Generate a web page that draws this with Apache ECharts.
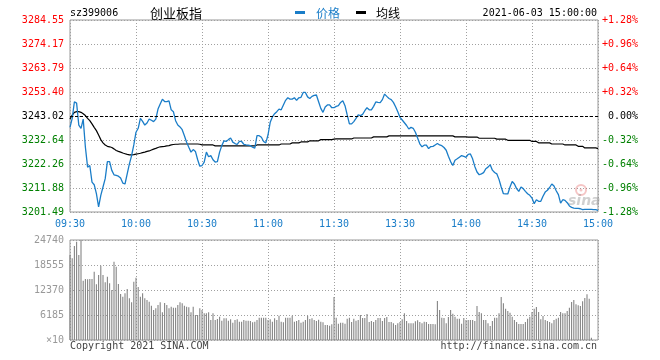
<!DOCTYPE html>
<html><head><meta charset="utf-8">
<script src="https://cdn.jsdelivr.net/npm/echarts@6/dist/echarts.min.js"></script>
<style>html,body{margin:0;padding:0;background:#fff}#c{width:660px;height:360px}</style>
</head><body><div id="c"></div>
<script>
// ---- data ----
const prevClose = 3243.02;
const priceMin = 3201.49;
const priceMax = 3284.55;
const volMax = 24740;

const timeTicks = ['09:30','10:00','10:30','11:00','11:30','13:30','14:00','14:30','15:00'];
const priceTicks = ['3201.49','3211.88','3222.26','3232.64','3243.02','3253.40','3263.79','3274.17','3284.55'];
const pctTicks = ['-1.28%','-0.96%','-0.64%','-0.32%','0.00%','+0.32%','+0.64%','+0.96%','+1.28%'];
const volTicks = ['×10','6185','12370','18555','24740'];

const price = [
3238.1,3242.0,3249.2,3248.6,3239.1,3237.7,3241.7,3229.5,3220.9,3221.6,
3214.4,3213.3,3209.4,3203.7,3208.7,3212.3,3215.9,3223.3,3223.3,3219.5,
3217.6,3217.3,3217.0,3216.2,3214.0,3213.6,3218.0,3222.3,3225.9,3230.5,
3236.0,3237.7,3242.0,3240.7,3239.1,3240.0,3241.7,3241.2,3240.6,3241.7,
3246.0,3248.2,3250.3,3249.3,3249.2,3249.6,3245.7,3244.9,3241.0,3239.1,
3238.3,3237.1,3234.5,3231.7,3229.5,3227.4,3228.5,3227.7,3224.2,3221.3,
3221.6,3223.1,3227.4,3225.4,3225.9,3224.1,3223.1,3223.3,3227.4,3230.2,
3232.3,3232.0,3232.8,3233.5,3231.7,3231.1,3230.7,3232.0,3232.0,3230.8,
3230.5,3230.4,3230.2,3229.5,3229.1,3234.5,3234.5,3233.8,3232.0,3231.4,
3234.8,3240.3,3242.6,3244.0,3244.9,3246.0,3245.7,3247.8,3249.8,3250.9,
3250.3,3250.3,3250.9,3249.8,3250.9,3251.1,3253.2,3253.2,3251.3,3250.6,
3251.5,3251.9,3252.1,3249.2,3246.3,3244.6,3246.9,3247.8,3247.8,3246.6,
3246.6,3247.2,3247.5,3248.9,3249.6,3247.5,3243.5,3239.6,3239.6,3240.6,
3242.0,3243.5,3243.2,3243.7,3245.3,3246.6,3245.7,3245.7,3247.2,3249.1,
3248.9,3248.8,3250.1,3252.5,3251.5,3250.6,3250.1,3248.9,3247.0,3244.9,
3242.4,3241.3,3240.1,3238.9,3237.4,3238.1,3237.7,3236.0,3233.5,3231.0,
3229.7,3230.4,3230.4,3228.9,3229.8,3229.9,3230.5,3231.1,3230.5,3230.2,
3229.4,3228.2,3225.6,3223.3,3221.6,3223.9,3224.5,3225.2,3225.9,3225.6,
3225.1,3226.4,3226.6,3224.5,3221.2,3218.8,3217.6,3218.0,3218.5,3220.2,
3220.9,3221.9,3219.6,3218.6,3218.0,3215.6,3212.3,3209.4,3209.3,3209.3,
3212.3,3214.7,3213.6,3211.6,3210.4,3212.3,3211.6,3210.4,3209.4,3208.7,
3207.5,3205.1,3206.8,3206.1,3206.1,3208.3,3210.1,3210.9,3212.1,3213.6,
3212.7,3210.7,3209.0,3205.3,3206.8,3206.5,3205.5,3204.1,3203.5,3203.2,
3203.1,3203.1,3202.9,3202.5,3202.6,3202.6,3202.6,3202.6,3202.5,3202.5,
3202.2
];

const avgPrice = [
3241.7,3243.4,3244.6,3244.9,3244.9,3244.6,3244.0,3243.2,3242.0,3241.0,
3239.6,3238.1,3236.7,3234.8,3232.8,3231.4,3230.5,3229.9,3229.7,3229.4,
3228.8,3228.1,3227.7,3227.4,3227.0,3226.7,3226.4,3226.2,3226.2,3226.3,
3226.5,3226.7,3226.9,3227.2,3227.4,3227.7,3227.9,3228.3,3228.7,3229.0,
3229.4,3229.7,3229.8,3229.9,3230.1,3230.2,3230.5,3230.7,3230.8,3230.8,
3230.9,3230.9,3230.9,3230.9,3230.9,3230.9,3230.9,3230.9,3230.9,3230.8,
3230.5,3230.5,3230.5,3230.5,3230.5,3230.5,3230.1,3230.1,3230.1,3230.1,
3230.1,3230.1,3230.1,3230.1,3230.1,3230.1,3230.1,3230.1,3230.1,3230.1,
3230.1,3230.1,3230.1,3230.1,3230.1,3230.5,3230.5,3230.5,3230.5,3230.5,
3230.5,3230.5,3230.5,3230.5,3230.5,3230.5,3230.9,3230.9,3230.9,3230.9,
3230.9,3231.4,3231.4,3231.4,3231.4,3231.8,3231.8,3231.8,3231.8,3232.3,
3232.3,3232.3,3232.3,3232.3,3232.8,3232.8,3232.8,3232.8,3232.8,3232.8,
3233.0,3233.1,3233.1,3233.1,3233.1,3233.1,3233.1,3233.1,3233.1,3233.5,
3233.5,3233.5,3233.5,3233.5,3233.5,3233.5,3233.5,3233.5,3234.0,3234.0,
3234.0,3234.0,3234.0,3234.0,3234.0,3234.4,3234.4,3234.4,3234.4,3234.4,
3234.4,3234.4,3234.4,3234.4,3234.4,3234.4,3234.4,3234.4,3234.4,3234.4,
3234.4,3234.4,3234.4,3234.4,3234.4,3234.4,3234.4,3234.4,3234.4,3234.4,
3234.4,3234.4,3234.4,3234.4,3234.4,3234.0,3234.0,3234.0,3234.0,3234.0,
3234.0,3233.9,3233.9,3233.9,3233.9,3233.9,3233.4,3233.4,3233.4,3233.4,
3233.4,3233.4,3233.4,3233.4,3233.0,3233.0,3233.0,3233.0,3233.0,3232.5,
3232.5,3232.5,3232.5,3232.5,3232.5,3232.5,3232.5,3232.5,3232.5,3232.5,
3232.0,3232.0,3232.0,3231.4,3231.4,3231.4,3231.4,3231.4,3231.4,3230.9,
3230.9,3230.9,3230.9,3230.9,3230.9,3230.5,3230.5,3230.5,3230.5,3230.5,
3230.5,3229.9,3229.9,3229.9,3229.2,3229.2,3229.2,3229.2,3229.2,3229.2,
3228.9
];

const volume = [
21000,20205,23257,24329,21030,24740,14680,15092,15010,15092,15092,
16906,13772,16082,18391,16082,14267,15669,14020,12371,19380,
18143,13855,11381,10721,11546,12618,10309,9319,14432,15422,
13113,10721,11546,10309,9896,9484,8494,7422,7835,8659,
9319,6845,9154,8659,7835,8247,8000,8000,8659,9319,
9072,8494,8247,8082,6845,8247,6185,6185,7835,7422,
6598,6598,6845,4948,6598,4948,5196,5773,4783,5361,
5361,4783,5113,4288,4948,5113,4536,4536,4948,4783,
4783,4701,4371,4536,4948,5525,5525,5525,5525,4948,
5113,4536,5361,4948,6020,4536,4371,5525,5525,5525,
6020,4536,4701,4948,4288,4536,4948,6020,5196,5361,
4948,4701,5031,4536,4371,3711,3711,3546,3876,10640,
5525,4041,4288,4288,4041,5278,5525,4453,5278,4783,
4948,6185,5443,5443,6433,4453,4701,4453,4948,5443,
5443,4701,5443,5690,4453,4453,4124,3711,4124,4453,
5113,6598,4701,4124,4124,4124,4618,4866,4453,4124,
4536,4453,3959,3959,3959,3876,9649,7422,5525,5443,
4124,5690,7422,6515,5773,5278,5278,4041,5443,4948,
4948,4948,4948,4701,8412,6927,6598,4948,4948,4124,
3464,4701,5525,5525,6598,10639,9072,7752,7175,6762,
5773,4948,4453,3959,3959,3959,4453,5278,5773,6927,
7752,8165,6927,5113,5938,4948,4701,4453,4124,4948,
5278,5525,6927,6598,6598,7175,8000,9402,9896,8824,
8577,8412,9567,10391,11298,10226,577,0,0,0
];

// ---- chart ----
const BLUE = '#1a7dc8';
const MONO = 'DejaVu Sans Mono';
const dotted = { color: '#a0a0a0', type: [1, 2], width: 1 };

const chart = echarts.init(document.getElementById('c'), null, { renderer: 'canvas' });
const priceData = price.map((v, i) => [i, v]);
const avgData = avgPrice.map((v, i) => [i, v]);
const volData = volume.map((v, i) => [i, v]);

const tickColor = (idx, mid) => idx > mid ? '#ff0000' : (idx < mid ? '#008000' : '#000000');

chart.setOption({
  animation: false,
  backgroundColor: '#ffffff',
  grid: [
    { left: 70, top: 20, width: 528, height: 192, show: true, borderColor: '#999', borderWidth: 1, backgroundColor: 'transparent' },
    { left: 70, top: 240, width: 528, height: 100, show: true, borderColor: '#999', borderWidth: 1, backgroundColor: 'transparent' }
  ],
  xAxis: [
    { type: 'value', gridIndex: 0, min: 0, max: 240, interval: 30,
      axisLine: { show: false }, axisTick: { show: false },
      splitLine: { show: true, lineStyle: dotted },
      axisLabel: { formatter: v => timeTicks[Math.round(v / 30)], color: BLUE, fontFamily: MONO, fontSize: 10, margin: 7 } },
    { type: 'value', gridIndex: 1, min: 0, max: 240, interval: 30,
      axisLine: { show: false }, axisTick: { show: false },
      splitLine: { show: true, lineStyle: dotted },
      axisLabel: { show: false } }
  ],
  yAxis: [
    { type: 'value', gridIndex: 0, min: priceMin, max: priceMax, show: false, splitLine: { show: false } },
    { type: 'value', gridIndex: 0, min: 0, max: 8, interval: 1, position: 'left',
      axisLine: { show: false }, axisTick: { show: false },
      splitLine: { show: true, lineStyle: dotted },
      axisLabel: { formatter: v => priceTicks[Math.round(v)], color: v => tickColor(Math.round(v), 4),
        fontFamily: MONO, fontSize: 10, margin: 6 } },
    { type: 'value', gridIndex: 0, min: 0, max: 8, interval: 1, position: 'right',
      axisLine: { show: false }, axisTick: { show: false }, splitLine: { show: false },
      axisLabel: { formatter: v => pctTicks[Math.round(v)], color: v => tickColor(Math.round(v), 4),
        fontFamily: MONO, fontSize: 10, margin: 40, align: 'right' } },
    { type: 'value', gridIndex: 1, min: 0, max: volMax, interval: 6185, position: 'left',
      axisLine: { show: false }, axisTick: { show: false },
      splitLine: { show: true, lineStyle: dotted },
      axisLabel: { formatter: v => volTicks[Math.round(v / 6185)], color: '#999', fontFamily: MONO, fontSize: 10, margin: 6 } }
  ],
  series: [
    { name: '均线', type: 'line', xAxisIndex: 0, yAxisIndex: 0, data: avgData, showSymbol: false, silent: true,
      lineStyle: { color: '#000', width: 1.2 }, z: 3 },
    { name: '价格', type: 'line', xAxisIndex: 0, yAxisIndex: 0, data: priceData, showSymbol: false, silent: true,
      lineStyle: { color: BLUE, width: 1.3 }, z: 4,
      markLine: { symbol: 'none', silent: true, label: { show: false },
        lineStyle: { color: '#000', type: [3, 2], width: 1 }, data: [{ yAxis: prevClose }] } },
    { name: 'vol', type: 'bar', xAxisIndex: 1, yAxisIndex: 3, data: volData, barWidth: 1.1, silent: true,
      itemStyle: { color: '#858585' } }
  ],
  graphic: [
    { type: 'text', x: 70, y: 13, style: { text: 'sz399006', font: '10px "DejaVu Sans Mono"', fill: '#000', verticalAlign: 'middle' } },
    { type: 'text', x: 150, y: 13, style: { text: '创业板指', font: '13px "Noto Sans CJK SC"', fill: '#000', verticalAlign: 'middle' } },
    { type: 'rect', shape: { x: 295, y: 11, width: 10, height: 3 }, style: { fill: BLUE } },
    { type: 'text', x: 316, y: 13, style: { text: '价格', font: '12px "Noto Sans CJK SC"', fill: BLUE, verticalAlign: 'middle' } },
    { type: 'rect', shape: { x: 356, y: 11, width: 10, height: 3 }, style: { fill: '#000' } },
    { type: 'text', x: 376, y: 13, style: { text: '均线', font: '12px "Noto Sans CJK SC"', fill: '#000', verticalAlign: 'middle' } },
    { type: 'text', x: 597, y: 13, style: { text: '2021-06-03 15:00:00', font: '10px "DejaVu Sans Mono"', fill: '#000', align: 'right', verticalAlign: 'middle' } },
    { type: 'text', x: 70, y: 346, style: { text: 'Copyright 2021 SINA.COM', font: '10px "DejaVu Sans Mono"', fill: '#444', verticalAlign: 'middle' } },
    { type: 'text', x: 597, y: 346, style: { text: 'http://finance.sina.com.cn', font: '10px "DejaVu Sans Mono"', fill: '#444', align: 'right', verticalAlign: 'middle' } },
    { type: 'circle', shape: { cx: 581, cy: 190, r: 5 }, style: { fill: 'none', stroke: 'rgba(225,90,90,0.35)', lineWidth: 2 }, z: 1 },
    { type: 'circle', shape: { cx: 581, cy: 190, r: 1.5 }, style: { fill: 'rgba(225,90,90,0.35)' }, z: 1 },
    { type: 'text', x: 568, y: 201, style: { text: 'sina', font: 'italic bold 14px "DejaVu Sans"', fill: 'rgba(150,150,150,0.45)', verticalAlign: 'middle' }, z: 1 }
  ]
});
</script>
</body></html>
